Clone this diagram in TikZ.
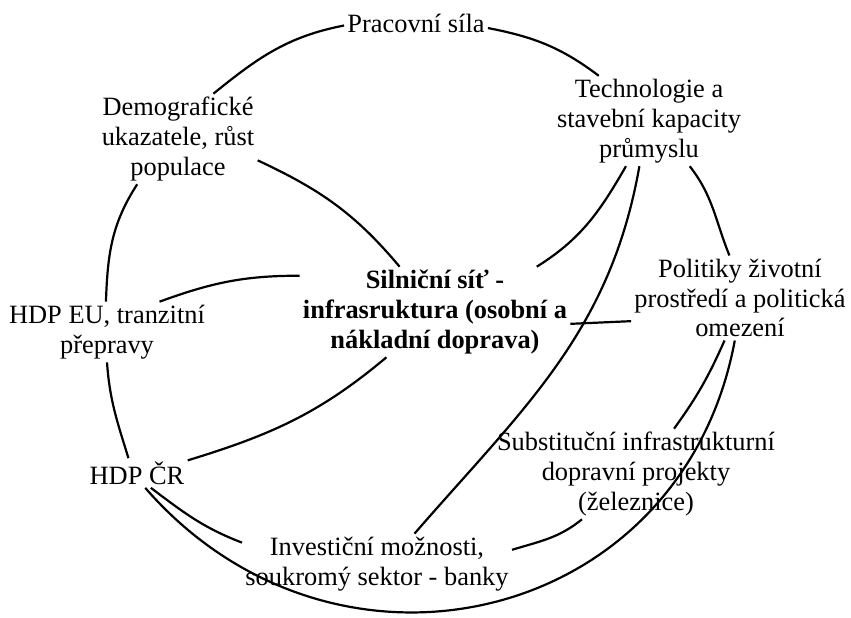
\documentclass[tikz,border=0pt]{standalone}
\usepackage{fontspec}
\setmainfont{Liberation Serif}
\begin{document}
\begin{tikzpicture}[x=0.5pt,y=0.5pt,
  lbl/.style={align=center,inner sep=1.5pt,font=\fontsize{13.2}{14.9}\selectfont},
  blbl/.style={lbl,font=\fontsize{13.2}{14.9}\selectfont\bfseries},
  link/.style={line width=1.1pt}]
\useasboundingbox (0,0) rectangle (851,617);
\node[lbl] (prac) at (416,594) {Pracovní síla};
\node[lbl] (demo) at (178,478) {Demografické\\ukazatele, růst\\populace};
\node[lbl] (tech) at (649,496) {Technologie a\\stavební kapacity\\průmyslu};
\node[blbl] (siln) at (435,305) {Silniční síť -\\infrasruktura (osobní a\\nákladní doprava)};
\node[lbl] (polit) at (740,319) {Politiky životní\\prostředí a politická\\omezení};
\node[lbl] (hdpeu) at (107,285) {HDP EU, tranzitní\\přepravy};
\node[lbl] (hdpcr) at (137,144) {HDP ČR};
\node[lbl] (inv) at (377,53) {Investiční možnosti,\\soukromý sektor - banky};
\node[lbl] (subst) at (636,143) {Substituční infrastrukturní\\dopravní projekty\\(železnice)};

\draw[link] (prac.182) to[out=191,in=39] (demo.52);
\draw[link] (prac.-4) to[out=-11,in=143] (tech.138);
\draw[link] (demo.-15) to[out=-25,in=130] (siln.128);
\draw[link] (demo.228) to[out=237,in=88] (hdpeu.92);
\draw[link] (hdpeu.30) to[out=20,in=180] (siln.165);
\draw[link] (hdpeu.south) to[out=-86,in=107] (hdpcr.120);
\draw[link] (hdpcr.14) to[out=17,in=220] (siln.223);
\draw[link] (hdpcr.-47) to[out=-37,in=159] (inv.171);
\draw[link] (hdpcr.-61) to[out=-49,in=259.5,looseness=1.22] (polit.263);
\draw[link] (tech.243) to[out=240,in=32] (siln.24);
\draw[link] (tech.258) to[out=260,in=49] (inv.39);
\draw[link] (polit.192) -- (siln.-5);
\draw[link] (tech.-48) to[out=-52,in=112] (polit.104);
\draw[link] (polit.250) to[out=246,in=54] (subst.50);
\draw[link] (subst.220) to[out=219,in=17] (inv.6);
\end{tikzpicture}
\end{document}
